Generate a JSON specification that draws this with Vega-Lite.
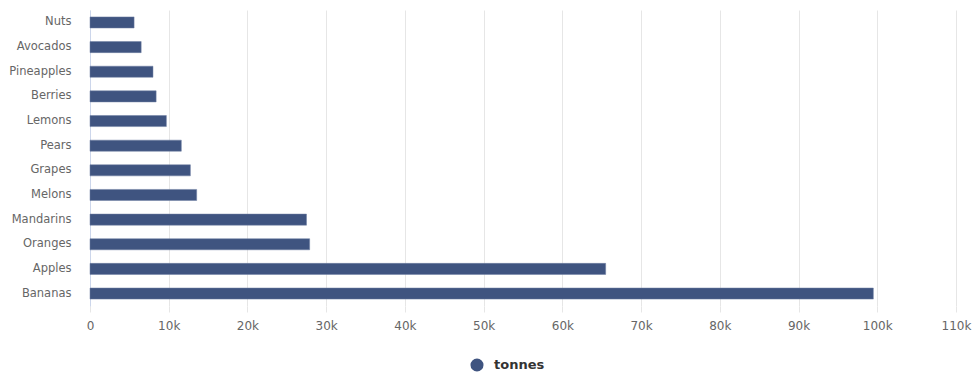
{
  "$schema": "https://vega.github.io/schema/vega-lite/v6.json",
  "width": 866,
  "height": 296,
  "autosize": "none",
  "padding": {"left": 90, "top": 10, "right": 19, "bottom": 70},
  "background": "white",
  "data": {"values": [
    {"fruit": "Nuts", "tonnes": 5600, "series": "tonnes"},
    {"fruit": "Avocados", "tonnes": 6500, "series": "tonnes"},
    {"fruit": "Pineapples", "tonnes": 8000, "series": "tonnes"},
    {"fruit": "Berries", "tonnes": 8400, "series": "tonnes"},
    {"fruit": "Lemons", "tonnes": 9700, "series": "tonnes"},
    {"fruit": "Pears", "tonnes": 11600, "series": "tonnes"},
    {"fruit": "Grapes", "tonnes": 12750, "series": "tonnes"},
    {"fruit": "Melons", "tonnes": 13550, "series": "tonnes"},
    {"fruit": "Mandarins", "tonnes": 27500, "series": "tonnes"},
    {"fruit": "Oranges", "tonnes": 27900, "series": "tonnes"},
    {"fruit": "Apples", "tonnes": 65500, "series": "tonnes"},
    {"fruit": "Bananas", "tonnes": 99500, "series": "tonnes"}
  ]},
  "mark": {"type": "bar", "stroke": "#6f7fa3", "strokeWidth": 0.5},
  "encoding": {
    "y": {
      "field": "fruit", "type": "nominal", "sort": null, "title": null,
      "scale": {"paddingInner": 0.55, "paddingOuter": 0.28},
      "axis": {"domainColor": "#ccd6eb", "ticks": false, "labelColor": "#666666", "labelFont": "DejaVu Sans", "labelFontSize": 11.5, "labelPadding": 19, "grid": false}
    },
    "x": {
      "field": "tonnes", "type": "quantitative", "title": null,
      "scale": {"domain": [0, 110000], "nice": false},
      "axis": {"values": [0,10000,20000,30000,40000,50000,60000,70000,80000,90000,100000,110000], "labelExpr": "datum.value == 0 ? '0' : (datum.value/1000) + 'k'", "labelFlush": false, "domain": false, "gridColor": "#e6e6e6", "tickColor": "#e6e6e6", "tickSize": 6, "labelColor": "#666666", "labelFont": "DejaVu Sans", "labelFontSize": 12, "labelPadding": 8}
    },
    "color": {
      "field": "series", "type": "nominal", "title": null,
      "scale": {"range": ["#3f5480"]},
      "legend": {"orient": "none", "legendX": 380, "legendY": 348, "symbolType": "circle", "symbolSize": 170, "labelOffset": 10, "labelFontSize": 13, "labelFontWeight": "bold", "labelColor": "#333333", "labelFont": "DejaVu Sans", "symbolStrokeWidth": 0}
    }
  },
  "config": {"view": {"stroke": null}}
}
